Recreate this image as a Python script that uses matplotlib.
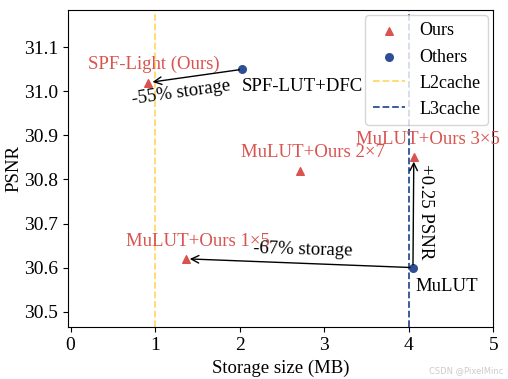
import matplotlib.pyplot as plt

plt.rcParams['font.family'] = ['Liberation Serif', 'DejaVu Serif']
plt.rcParams['font.size'] = 13.5

ours_names = ['SPF-Light (Ours)', 'MuLUT+Ours 2×7', 'MuLUT+Ours 3×5', 'MuLUT+Ours 1×5']
ours_size = [0.92, 2.71, 4.06, 1.36]
ours_psnr = [31.02, 30.82, 30.85, 30.62]

other_names = ['SPF-LUT+DFC', 'MuLUT']
other_size = [2.03, 4.05]
other_psnr = [31.05, 30.60]

l2_cache = 1.0
l3_cache = 4.0

red = '#d9534f'
blue = '#2e4e96'
yellow = '#ffd966'


def main():
    fig = plt.figure(figsize=(5.08, 3.79), dpi=100)
    ax = fig.add_axes([0.134, 0.137, 0.837, 0.837])

    ax.scatter(ours_size, ours_psnr, marker='^', color=red, s=30, label='Ours', zorder=3)
    ax.scatter(other_size, other_psnr, marker='o', color=blue, s=30, label='Others', zorder=3)
    ax.axvline(l2_cache, color=yellow, linestyle='--', lw=1.3, label='L2cache')
    ax.axvline(l3_cache, color=blue, linestyle='--', lw=1.3, label='L3cache')

    # point labels
    offs = [(-0.71, 0.03), (-0.70, 0.03), (-0.68, 0.03), (-0.70, 0.03)]
    for n, x, y, (dx, dy) in zip(ours_names, ours_size, ours_psnr, offs):
        ax.text(x + dx, y + dy, n, color=red, va='baseline')
    ax.text(other_size[0], other_psnr[0] - 0.05, other_names[0], va='baseline')
    ax.text(other_size[1] + 0.03, other_psnr[1] - 0.052, other_names[1], va='baseline')

    arrow = dict(arrowstyle='->', color='black', lw=1, shrinkA=2, shrinkB=3)
    ax.annotate('', xy=(ours_size[0], ours_psnr[0]), xytext=(other_size[0], other_psnr[0]),
                arrowprops=arrow)
    ax.annotate('', xy=(ours_size[3], ours_psnr[3]), xytext=(other_size[1], other_psnr[1]),
                arrowprops=arrow)
    ax.annotate('', xy=(ours_size[2], ours_psnr[2]), xytext=(other_size[1], other_psnr[1]),
                arrowprops=arrow)
    ax.text(0.71, 30.972, '-55% storage', rotation=8, va='baseline')
    ax.text(2.16, 30.628, '-67% storage', rotation=-1.5, va='baseline')
    ax.text(4.1, 30.835, '+0.25 PSNR', rotation=-90, va='top')

    ax.set_xlim(-0.03, 5.0)
    ax.set_ylim(30.465, 31.185)
    ax.set_xticks([0, 1, 2, 3, 4, 5])
    ax.set_yticks([30.5, 30.6, 30.7, 30.8, 30.9, 31.0, 31.1])
    ax.tick_params(labelsize=14)
    ax.set_xlabel('Storage size (MB)', fontsize=13.5)
    ax.set_ylabel('PSNR', fontsize=13.5, labelpad=1)
    ax.legend(loc='upper right', fontsize=13, borderaxespad=0.3, handlelength=1.8)

    fig.text(0.99, 0.01, 'CSDN @PixelMinc', color='#cccccc', fontsize=6,
             ha='right', va='bottom', family='DejaVu Sans')

    plt.savefig('out.png', dpi=100)


if __name__ == '__main__':
    main()
